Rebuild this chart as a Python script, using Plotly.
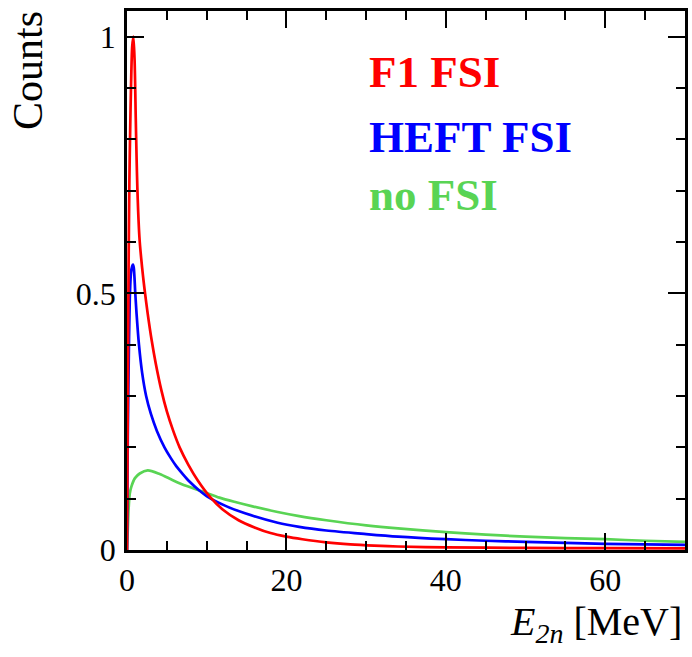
import plotly.graph_objects as go

# E_2n spectra (normalised counts) for the three final-state-interaction models
e_f1 = [0, 0.1, 0.2, 0.3, 0.4, 0.5, 0.65, 0.8, 0.95, 1.1, 1.2, 1.3, 1.4, 1.5,
        1.6, 1.8, 2.0, 2.2, 2.6, 3.1, 3.6, 4.3, 5.0, 5.8, 6.6, 7.7, 8.9, 10.5,
        12, 14, 16, 18, 20, 22, 25, 28, 31, 34, 40, 50, 60, 70]
c_f1 = [0, 0.30, 0.55, 0.72, 0.82, 0.90, 0.98, 1.0, 0.955, 0.84, 0.765, 0.705,
        0.66, 0.625, 0.60, 0.565, 0.535, 0.508, 0.46, 0.408, 0.364, 0.312,
        0.27, 0.232, 0.20, 0.166, 0.135, 0.102, 0.079, 0.058, 0.044, 0.033,
        0.026, 0.021, 0.015, 0.011, 0.0085, 0.0068, 0.0052, 0.004, 0.0035,
        0.003]

e_heft = [0, 0.05, 0.1, 0.2, 0.35, 0.5, 0.65, 0.75, 0.85, 1.04, 1.2, 1.5, 1.9,
          2.4, 3.0, 3.75, 4.7, 5.5, 6.2, 7.0, 7.8, 9.0, 10.3, 12.5, 14.9, 18.9,
          21.6, 25, 30, 34, 40, 45, 50, 55, 60, 65, 70]
c_heft = [0, 0.12, 0.22, 0.35, 0.49, 0.54, 0.553, 0.556, 0.55, 0.50, 0.46, 0.40,
          0.345, 0.30, 0.265, 0.232, 0.20, 0.179, 0.163, 0.148, 0.134, 0.117,
          0.102, 0.085, 0.071, 0.053, 0.045, 0.038, 0.031, 0.026, 0.021, 0.018,
          0.016, 0.014, 0.012, 0.011, 0.010]

e_nofsi = [0, 0.1, 0.2, 0.35, 0.54, 1.0, 1.6, 2.6, 4.1, 5.75, 7.4, 9.5, 11.6,
           13.7, 15.75, 18.9, 21.6, 25, 30, 34, 40, 45, 50, 55, 60, 65, 70]
c_nofsi = [0, 0.04, 0.08, 0.11, 0.123, 0.14, 0.149, 0.155, 0.148, 0.136, 0.125,
           0.114, 0.102, 0.093, 0.085, 0.074, 0.066, 0.058, 0.048, 0.042,
           0.035, 0.030, 0.026, 0.023, 0.021, 0.018, 0.016]

labels = ["F1 FSI", "HEFT FSI", "no FSI"]
colors = ["#ff0000", "#0000ff", "#59d454"]

SERIF = "Liberation Serif, Times New Roman, serif"

fig = go.Figure()
# draw order: no FSI underneath, then HEFT, then F1 on top
for xs, ys, name, col in [(e_nofsi, c_nofsi, labels[2], colors[2]),
                          (e_heft, c_heft, labels[1], colors[1]),
                          (e_f1, c_f1, labels[0], colors[0])]:
    fig.add_trace(go.Scatter(x=xs, y=ys, mode="lines", name=name,
                             line=dict(color=col, width=2.7, shape="spline",
                                       smoothing=0.8),
                             showlegend=False))

W, H = 692, 657
ML, MR, MT, MB = 127, 4, 11, 107
pw, ph = W - ML - MR, H - MT - MB


def px(x):
    return (x - ML) / pw


def py(y):
    return (H - MB - y) / ph


axis_common = dict(
    showline=True, linecolor="black", linewidth=2.5, mirror="allticks",
    ticks="inside", ticklen=17, tickwidth=1.5, tickcolor="black",
    showgrid=False, zeroline=False,
    tickfont=dict(family=SERIF, size=32, color="black"),
)

fig.update_xaxes(range=[0, 70], dtick=20, tick0=0,
                 minor=dict(dtick=5, ticks="inside", ticklen=9,
                            tickwidth=1.5, tickcolor="black", showgrid=False),
                 **axis_common)
fig.update_yaxes(range=[0, 1.05], tickvals=[0, 0.5, 1], ticktext=["0", "0.5", "1"],
                 ticklabelstandoff=2,
                 minor=dict(dtick=0.1, tick0=0, ticks="inside", ticklen=9,
                            tickwidth=1.5, tickcolor="black", showgrid=False),
                 **axis_common)

annotations = [
    dict(text="Counts", textangle=-90, x=px(28), y=py(9), xref="paper",
         yref="paper", xanchor="center", yanchor="top", showarrow=False,
         font=dict(family=SERIF, size=42, color="black")),
    dict(text="<i>E</i><sub><i>2n</i></sub> [MeV]", x=px(687), y=py(651),
         xref="paper", yref="paper", xanchor="right", yanchor="bottom",
         showarrow=False, font=dict(family=SERIF, size=40, color="black")),
]
for name, col, yc in zip(labels, colors, [72, 137, 195]):
    annotations.append(dict(text=f"<b>{name}</b>", x=px(368), y=py(yc),
                            xref="paper", yref="paper", xanchor="left",
                            yanchor="middle", showarrow=False,
                            font=dict(family=SERIF, size=45, color=col)))

fig.update_layout(
    width=W, height=H,
    margin=dict(l=ML, r=MR, t=MT, b=MB),
    paper_bgcolor="white", plot_bgcolor="white",
    annotations=annotations,
)

fig.write_html("out.html")
